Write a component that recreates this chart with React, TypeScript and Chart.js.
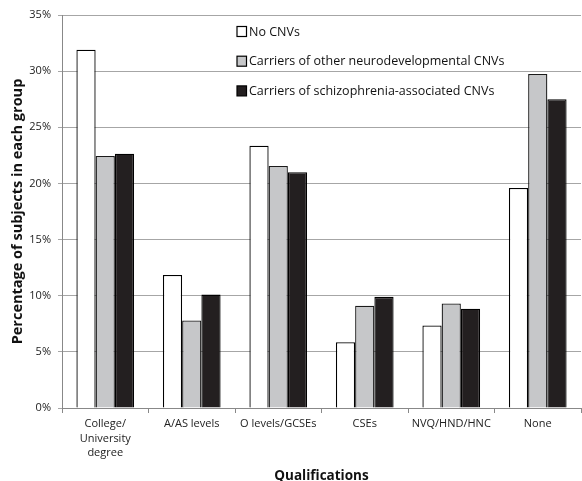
import React, { useEffect, useRef } from "react";
import { Chart, registerables } from "chart.js";

Chart.register(...registerables);

const categories: (string | string[])[] = [
  ["College/", "University", "degree"],
  "A/AS levels",
  "O levels/GCSEs",
  "CSEs",
  "NVQ/HND/HNC",
  "None",
];
const seriesNames = [
  "No CNVs",
  "Carriers of other neurodevelopmental CNVs",
  "Carriers of schizophrenia-associated CNVs",
];
const noCnvs = [31.9, 11.85, 23.35, 5.85, 7.35, 19.6];
const otherCnvs = [22.45, 7.8, 21.55, 9.1, 9.3, 29.75];
const schizCnvs = [22.65, 10.1, 21.0, 9.9, 8.85, 27.5];
const yTicks = [0, 5, 10, 15, 20, 25, 30, 35];

const FONT = "'Open Sans', 'DejaVu Sans', sans-serif";

const insideLegend = {
  id: "insideLegend",
  afterDraw(chart: any) {
    const { ctx, chartArea } = chart;
    const x = chartArea.left + 175;
    const y0 = chartArea.top + 16.5;
    const step = 29.7;
    ctx.save();
    ctx.font = `12.5px ${FONT}`;
    ctx.textBaseline = "middle";
    ctx.textAlign = "left";
    chart.data.datasets.forEach((ds: any, i: number) => {
      const y = y0 + i * step;
      ctx.fillStyle = ds.backgroundColor;
      ctx.fillRect(x, y - 5, 9.5, 10);
      ctx.strokeStyle = "#000";
      ctx.lineWidth = 1.2;
      ctx.strokeRect(x, y - 5, 9.5, 10);
      ctx.fillStyle = "#111";
      ctx.fillText(ds.label, x + 12, y + 0.5);
    });
    ctx.restore();
  },
};

export default function App() {
  const ref = useRef<HTMLCanvasElement>(null);
  useEffect(() => {
    document.body.style.margin = "0";
    const chart = new Chart(ref.current!, {
      type: "bar",
      data: {
        labels: categories,
        datasets: [
          { label: seriesNames[0], data: noCnvs, backgroundColor: "#ffffff", borderColor: "#000000", borderWidth: 1.3 },
          { label: seriesNames[1], data: otherCnvs, backgroundColor: "#c6c7c9", borderColor: "#1a1a1a", borderWidth: 1.3 },
          { label: seriesNames[2], data: schizCnvs, backgroundColor: "#231f20", borderColor: "#000000", borderWidth: 1.3 },
        ],
      },
      options: {
        animation: false,
        responsive: false,
        devicePixelRatio: 1,
        layout: { padding: { top: 15, right: 1, left: 0, bottom: 0 } },
        datasets: { bar: { categoryPercentage: 0.667, barPercentage: 1 } },
        plugins: {
          legend: { display: false },
          tooltip: { enabled: false },
        },
        scales: {
          x: {
            grid: { drawOnChartArea: false, drawTicks: true, tickLength: 5, color: "#888", offset: true },
            border: { display: true, color: "#888", width: 1 },
            ticks: { color: "#222", font: { family: FONT, size: 11, lineHeight: 1.32 }, padding: 4, maxRotation: 0, autoSkip: false },
            title: { display: true, text: "Qualifications", color: "#111", font: { family: FONT, size: 13.5, weight: "bold" }, padding: { top: 14, bottom: -3 } },
            afterFit: (s: any) => { s.height = 73; },
          },
          y: {
            min: 0,
            max: 35,
            afterBuildTicks: (s: any) => { s.ticks = yTicks.map((v) => ({ value: v })); },
            grid: { color: "#a6a6a6", lineWidth: 1, tickLength: 4 },
            border: { display: true, color: "#888", width: 1 },
            ticks: { color: "#222", font: { family: FONT, size: 11 }, padding: 7, callback: (v: any) => `${v}%` },
            title: { display: true, text: "Percentage of subjects in each group", color: "#111", font: { family: FONT, size: 14.5, weight: "bold" }, padding: { top: 9, bottom: 0 } },
            afterFit: (s: any) => { s.width = 62; },
          },
        },
      },
      plugins: [insideLegend],
    });
    return () => chart.destroy();
  }, []);
  return (
    <div style={{ width: 582, height: 481 }}>
      <canvas ref={ref} width={582} height={481} />
    </div>
  );
}
